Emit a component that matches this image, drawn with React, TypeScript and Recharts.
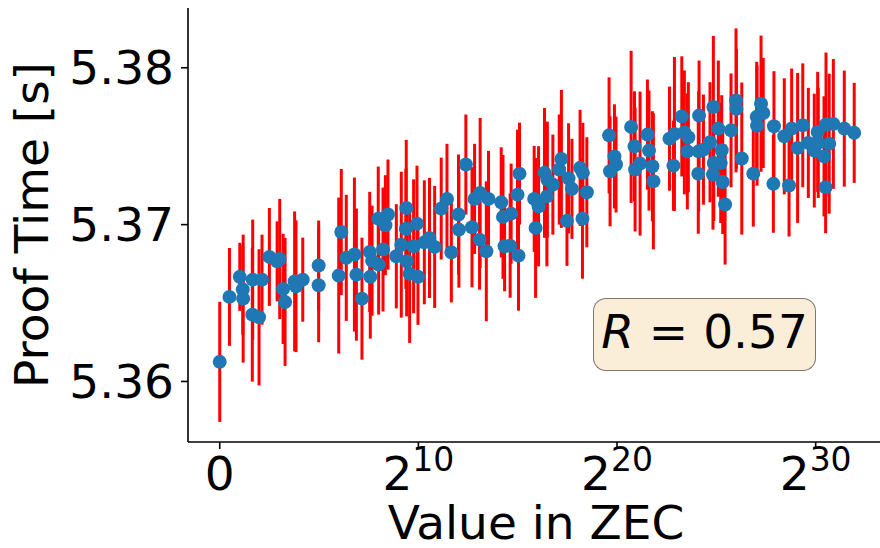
import { ScatterChart, Scatter, XAxis, YAxis, ErrorBar, Label } from 'recharts';

// log2 of the value in ZEC for each transaction
const xs = [
  0, 0.49, 1.01, 1.16, 1.18, 1.66, 1.64, 1.98, 2.13, 2.5, 2.89, 3.02, 3.19, 3.29, 3.77, 3.84, 4.18, 4.98, 4.98,
  5.99, 6.12, 6.37, 6.78, 6.88, 7.16, 7.55, 7.58, 7.67, 8.0, 7.98, 8.34, 8.47, 8.22, 8.89, 9.14, 9.39, 9.37, 9.41, 9.56,
  9.76, 9.93, 9.98, 10.3, 10.56, 10.82, 11.15, 11.44, 11.66,
  12.02, 12.04, 12.39, 12.7, 12.83, 13.11, 13.08, 13.42, 13.53, 14.17, 14.26, 14.34, 14.67, 14.62, 14.99, 15.04, 15.09,
  15.83, 15.9, 16.05, 16.35, 16.47, 16.49, 16.77, 17.09, 17.2, 17.48, 17.56, 17.73, 18.14, 18.28, 18.48, 18.26,
  19.6, 19.87, 19.95, 19.65, 20.71, 20.88, 21.16, 20.91, 21.53, 21.61, 21.78, 21.83, 22.64, 22.89, 22.84, 23.26, 23.39,
  23.59, 23.54, 24.13, 24.11, 24.35, 24.09, 24.68, 24.85, 25.1, 24.87, 24.83, 25.27, 25.22, 25.32, 25.44,
  25.74, 25.99, 26.01, 26.28, 26.86, 27.03, 27.05, 27.25, 27.36, 27.9, 27.87, 28.42, 28.79, 28.66, 29.09, 29.35, 29.63,
  29.93, 30.1, 30.13, 30.42, 30.52, 30.5, 30.68, 30.89, 31.44, 31.94,
];

// mean proof time [s]
const ys = [
  5.36125, 5.36539, 5.36667, 5.36586, 5.36528, 5.36649, 5.36426, 5.36409, 5.36649, 5.36794, 5.36766, 5.36781, 5.3659,
  5.36507, 5.36638, 5.36607, 5.36649, 5.36739, 5.36613,
  5.36675, 5.36953, 5.36788, 5.36809, 5.36681, 5.36528, 5.36826, 5.36668, 5.3677, 5.36745, 5.37038, 5.36996, 5.37064,
  5.36841, 5.36798, 5.36872, 5.37106, 5.36973, 5.36766, 5.36686, 5.36862, 5.37006, 5.36667, 5.36887, 5.36915, 5.36858,
  5.37102, 5.37164, 5.36823,
  5.37064, 5.36968, 5.37383, 5.36983, 5.37164, 5.37202, 5.36904, 5.3683, 5.37164, 5.37142, 5.37049, 5.36862, 5.3707,
  5.36866, 5.37191, 5.36802, 5.37325, 5.37164, 5.36979, 5.37117, 5.3733, 5.3718, 5.37287, 5.37255, 5.37351, 5.37419,
  5.37024, 5.37295, 5.37228, 5.37362, 5.3733, 5.37206, 5.37038,
  5.37569, 5.37435, 5.37383, 5.3734, 5.37623, 5.37499, 5.37389, 5.37351, 5.37574, 5.37472, 5.37372, 5.37276, 5.37548,
  5.37578, 5.37376, 5.3769, 5.37588, 5.37557, 5.37467, 5.37695, 5.37467, 5.37478, 5.37325, 5.37525, 5.3775, 5.37612,
  5.37393, 5.37319, 5.37474, 5.37393, 5.37272, 5.37128,
  5.37601, 5.37792, 5.37738, 5.37421, 5.37325, 5.37687, 5.37631, 5.37771, 5.37712, 5.37627, 5.3726, 5.37563, 5.37612,
  5.37249, 5.37489, 5.37633, 5.37521, 5.37472, 5.37591, 5.37521, 5.37435, 5.37638, 5.37238, 5.37516, 5.37642, 5.37612,
  5.37585,
];

// std deviation [s]
const errs = [
  0.00383, 0.00312, 0.00217, 0.00287, 0.00408, 0.00383, 0.00427, 0.00434, 0.00287, 0.00312, 0.00255, 0.00383, 0.00351,
  0.00408, 0.00446, 0.0042, 0.00268, 0.00287, 0.00363,
  0.00497, 0.00402, 0.00402, 0.00491, 0.00421, 0.00389, 0.00383, 0.00395, 0.00351, 0.00319, 0.00332, 0.00319, 0.00351,
  0.00395, 0.00332, 0.00465, 0.00434, 0.00383, 0.00351, 0.0044, 0.00427, 0.0037, 0.00306, 0.00395, 0.00383, 0.00389,
  0.00325, 0.00351, 0.00319,
  0.00383, 0.0037, 0.00319, 0.00383, 0.00351, 0.00478, 0.00319, 0.00446, 0.00306, 0.00351, 0.00395, 0.00287, 0.00319,
  0.00332, 0.00414, 0.00351, 0.00325, 0.00338, 0.00446, 0.00383, 0.00414, 0.00446, 0.0037, 0.00319, 0.00351, 0.0044,
  0.00287, 0.00351, 0.00319, 0.0037, 0.00319, 0.00351, 0.00383,
  0.0037, 0.00332, 0.00306, 0.00351, 0.00485, 0.00351, 0.00459, 0.00395, 0.00351, 0.00383, 0.00351, 0.00434, 0.00332,
  0.00491, 0.00287, 0.00383, 0.00395, 0.00351, 0.0037, 0.00351, 0.00383, 0.00351, 0.00383, 0.00383, 0.00453, 0.00434,
  0.0037, 0.00351, 0.00351, 0.00383, 0.00332, 0.00383,
  0.00363, 0.00459, 0.00383, 0.00485, 0.00338, 0.00351, 0.00383, 0.00434, 0.00351, 0.00351, 0.00312, 0.0037, 0.00383,
  0.00325, 0.00478, 0.00395, 0.00351, 0.00363, 0.00383, 0.00351, 0.00383, 0.00459, 0.00293, 0.00446, 0.00414, 0.0037,
  0.00319,
];

const xTicks = [0, 10, 20, 30];
const yTicks = [5.36, 5.37, 5.38];
const rValue = '0.57';

const data = xs.map((x, i) => ({ x, y: ys[i], err: errs[i] }));

const FONT = '"DejaVu Sans", sans-serif';
const FS = 47;

function XTick({ x, y, payload }: any) {
  const v = payload.value;
  return (
    <text x={x} y={y + 34} textAnchor="middle" fontSize={FS} fill="#000" fontFamily={FONT}>
      {v === 0 ? (
        '0'
      ) : (
        <>
          <tspan>2</tspan>
          <tspan dy={-19} fontSize={33}>
            {v}
          </tspan>
        </>
      )}
    </text>
  );
}

function Dot({ cx, cy }: any) {
  return <circle cx={cx} cy={cy} r={7} fill="#1f77b4" />;
}

export default function App() {
  return (
    <div style={{ position: 'relative', width: 880, height: 548, overflow: 'hidden', background: '#fff' }}>
      <style>{'body{margin:0}'}</style>
      <ScatterChart width={890} height={548} margin={{ top: 8, right: 4, bottom: 0, left: 0 }}>
        <XAxis
          dataKey="x"
          type="number"
          domain={[-1.597, 33.54]}
          allowDataOverflow
          ticks={xTicks}
          tick={<XTick />}
          tickSize={7}
          tickMargin={7}
          height={106}
          axisLine={{ stroke: '#000', strokeWidth: 1.6 }}
          tickLine={{ stroke: '#000', strokeWidth: 1.6 }}
        >
          <Label
            content={() => (
              <text x={536} y={539} textAnchor="middle" fontSize={FS} fontFamily={FONT} fill="#000">
                Value in ZEC
              </text>
            )}
          />
        </XAxis>
        <XAxis
          xAxisId="top"
          orientation="top"
          type="number"
          domain={[0, 1]}
          height={0}
          tick={false}
          tickLine={false}
          axisLine={{ stroke: '#000', strokeWidth: 1.6 }}
        />
        <YAxis
          dataKey="y"
          type="number"
          domain={[5.35614, 5.38381]}
          allowDataOverflow
          ticks={yTicks}
          tickFormatter={(v: number) => v.toFixed(2)}
          tick={{ fill: '#000', fontSize: FS, fontFamily: FONT }}
          tickSize={7}
          tickMargin={7}
          width={188}
          axisLine={{ stroke: '#000', strokeWidth: 1.6 }}
          tickLine={{ stroke: '#000', strokeWidth: 1.6 }}
        >
          <Label
            content={() => (
              <text
                x={48}
                y={225}
                transform="rotate(-90 48 225)"
                textAnchor="middle"
                fontSize={FS}
                fontFamily={FONT}
                fill="#000"
              >
                Proof Time [s]
              </text>
            )}
          />
        </YAxis>
        <Scatter data={data} shape={<Dot />} isAnimationActive={false}>
          <ErrorBar dataKey="err" direction="y" width={0} stroke="#ff0000" strokeWidth={3} isAnimationActive={false} />
        </Scatter>
      </ScatterChart>
      <div
        style={{
          position: 'absolute',
          left: 593,
          top: 298,
          width: 223,
          height: 73,
          boxSizing: 'border-box',
          border: '1.5px solid rgba(0,0,0,0.5)',
          borderRadius: 13,
          background: 'rgba(245,222,179,0.5)',
          display: 'flex',
          alignItems: 'center',
          justifyContent: 'center',
          fontFamily: FONT,
          fontSize: FS,
          lineHeight: '47px',
          paddingBottom: 6,
          color: '#000',
        }}
      >
        <span style={{ fontStyle: 'italic' }}>R</span>
        <span style={{ whiteSpace: 'pre' }}>{' = ' + rValue}</span>
      </div>
    </div>
  );
}
